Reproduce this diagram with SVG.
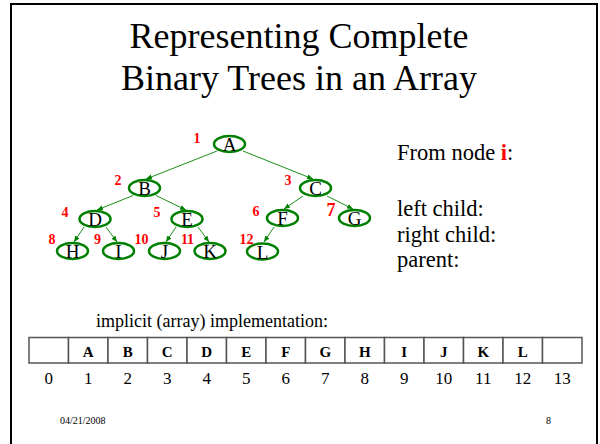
<svg xmlns="http://www.w3.org/2000/svg" width="600" height="444" viewBox="0 0 600 444">
  <style>
    text { font-family: "Liberation Serif", "Times New Roman", serif; fill: #000; }
    .title { font-size: 36px; text-anchor: middle; }
    .node ellipse { fill: #fff; stroke: #008000; stroke-width: 2.5; }
    .node text.key { font-size: 19px; text-anchor: middle; }
    .node text.idx { font-size: 14px; font-weight: bold; fill: #ff0000; text-anchor: middle; }
    .edge { stroke: #008000; stroke-width: 0.9; fill: none; marker-end: url(#arrow); }
    .side { font-size: 22.5px; }
    .cell { fill: #fff; stroke: #555; stroke-width: 1.5; }
    .cellText { font-size: 15px; font-weight: bold; text-anchor: middle; }
    .num { font-size: 17px; text-anchor: middle; }
    .foot { font-size: 10px; }
  </style>
  <defs>
    <marker id="arrow" markerUnits="userSpaceOnUse" markerWidth="7" markerHeight="6" refX="6" refY="2.5" orient="auto">
      <path d="M0,0 L6,2.5 L0,5 z" fill="#008000"/>
    </marker>
  </defs>

  <!-- slide frame -->
  <rect x="11" y="4" width="586" height="460" fill="#fff" stroke="#000" stroke-width="2"/>

  <!-- title -->
  <text class="title" x="299" y="48">Representing Complete</text>
  <text class="title" x="299" y="90">Binary Trees in an Array</text>

  <!-- tree connectors -->
  <g id="edges">
    <line class="edge" x1="217" y1="151" x2="146" y2="179"/>
    <line class="edge" x1="243" y1="151" x2="313" y2="179"/>
    <line class="edge" x1="133" y1="195.5" x2="97" y2="210"/>
    <line class="edge" x1="156" y1="195.5" x2="186" y2="210"/>
    <line class="edge" x1="84" y1="227" x2="74" y2="242"/>
    <line class="edge" x1="106" y1="227" x2="117" y2="242"/>
    <line class="edge" x1="176" y1="227" x2="166" y2="242"/>
    <line class="edge" x1="198" y1="227" x2="209" y2="242"/>
    <line class="edge" x1="303" y1="196" x2="284" y2="209"/>
    <line class="edge" x1="327" y1="196" x2="353" y2="209"/>
    <line class="edge" x1="274" y1="227" x2="264" y2="242"/>
  </g>

  <!-- tree nodes -->
  <g id="node-A" class="node">
    <ellipse cx="229.5" cy="144" rx="15.5" ry="8"/>
    <text class="key" x="229.5" y="151">A</text>
    <text class="idx" x="197" y="143">1</text>
  </g>
  <g id="node-B" class="node">
    <ellipse cx="144.5" cy="188" rx="15.5" ry="8"/>
    <text class="key" x="144.5" y="195">B</text>
    <text class="idx" x="118" y="185">2</text>
  </g>
  <g id="node-C" class="node">
    <ellipse cx="315.5" cy="188" rx="15.5" ry="8"/>
    <text class="key" x="315.5" y="195">C</text>
    <text class="idx" x="288" y="185">3</text>
  </g>
  <g id="node-D" class="node">
    <ellipse cx="95" cy="219" rx="15.5" ry="8"/>
    <text class="key" x="95" y="226">D</text>
    <text class="idx" x="65" y="217">4</text>
  </g>
  <g id="node-E" class="node">
    <ellipse cx="187" cy="219" rx="15.5" ry="8"/>
    <text class="key" x="187" y="226">E</text>
    <text class="idx" x="157" y="217">5</text>
  </g>
  <g id="node-F" class="node">
    <ellipse cx="282.5" cy="218" rx="15.5" ry="8"/>
    <text class="key" x="282.5" y="225">F</text>
    <text class="idx" x="256" y="216">6</text>
  </g>
  <g id="node-G" class="node">
    <ellipse cx="354.5" cy="218" rx="15.5" ry="8"/>
    <text class="key" x="354.5" y="225">G</text>
    <text class="idx" x="331" y="216" style="font-size:18px">7</text>
  </g>
  <g id="node-H" class="node">
    <ellipse cx="72.5" cy="251" rx="15.5" ry="8"/>
    <text class="key" x="72.5" y="258">H</text>
    <text class="idx" x="52" y="244">8</text>
  </g>
  <g id="node-I" class="node">
    <ellipse cx="118.5" cy="251" rx="15.5" ry="8"/>
    <text class="key" x="118.5" y="258">I</text>
    <text class="idx" x="97.5" y="244">9</text>
  </g>
  <g id="node-J" class="node">
    <ellipse cx="164.5" cy="251" rx="15.5" ry="8"/>
    <text class="key" x="164.5" y="258">J</text>
    <text class="idx" x="141.5" y="244">10</text>
  </g>
  <g id="node-K" class="node">
    <ellipse cx="210" cy="251" rx="15.5" ry="8"/>
    <text class="key" x="210" y="258">K</text>
    <text class="idx" x="187.5" y="244">11</text>
  </g>
  <g id="node-L" class="node">
    <ellipse cx="262.5" cy="251.5" rx="15.5" ry="8"/>
    <text class="key" x="262.5" y="258.5">L</text>
    <text class="idx" x="246.5" y="244">12</text>
  </g>

  <!-- index formulas -->
  <g id="formulas">
    <text class="side" x="397" y="160">From node <tspan font-weight="bold" fill="#ff0000">i</tspan>:</text>
    <text class="side" x="397" y="216">left child:</text>
    <text class="side" x="397" y="242">right child:</text>
    <text class="side" x="397" y="267">parent:</text>
  </g>

  <!-- array layout -->
  <g id="array">
    <text x="96" y="327" style="font-size:18px">implicit (array) implementation:</text>
    <rect class="cell" x="29" y="337.5" width="39.5" height="25.5"/>
    <rect class="cell" x="68.5" y="337.5" width="39.5" height="25.5"/>
    <rect class="cell" x="108" y="337.5" width="39.5" height="25.5"/>
    <rect class="cell" x="147.5" y="337.5" width="39.5" height="25.5"/>
    <rect class="cell" x="187" y="337.5" width="39.5" height="25.5"/>
    <rect class="cell" x="226.5" y="337.5" width="39.5" height="25.5"/>
    <rect class="cell" x="266" y="337.5" width="39.5" height="25.5"/>
    <rect class="cell" x="305.5" y="337.5" width="39.5" height="25.5"/>
    <rect class="cell" x="345" y="337.5" width="39.5" height="25.5"/>
    <rect class="cell" x="384.5" y="337.5" width="39.5" height="25.5"/>
    <rect class="cell" x="424" y="337.5" width="39.5" height="25.5"/>
    <rect class="cell" x="463.5" y="337.5" width="39.5" height="25.5"/>
    <rect class="cell" x="503" y="337.5" width="39.5" height="25.5"/>
    <rect class="cell" x="542.5" y="337.5" width="39.5" height="25.5"/>

    <text class="cellText" x="88.25" y="357">A</text>
    <text class="cellText" x="127.75" y="357">B</text>
    <text class="cellText" x="167.25" y="357">C</text>
    <text class="cellText" x="206.75" y="357">D</text>
    <text class="cellText" x="246.25" y="357">E</text>
    <text class="cellText" x="285.75" y="357">F</text>
    <text class="cellText" x="325.25" y="357">G</text>
    <text class="cellText" x="364.75" y="357">H</text>
    <text class="cellText" x="404.25" y="357">I</text>
    <text class="cellText" x="443.75" y="357">J</text>
    <text class="cellText" x="483.25" y="357">K</text>
    <text class="cellText" x="522.75" y="357">L</text>

    <text class="num" x="48.75" y="384">0</text>
    <text class="num" x="88.25" y="384">1</text>
    <text class="num" x="127.75" y="384">2</text>
    <text class="num" x="167.25" y="384">3</text>
    <text class="num" x="206.75" y="384">4</text>
    <text class="num" x="246.25" y="384">5</text>
    <text class="num" x="285.75" y="384">6</text>
    <text class="num" x="325.25" y="384">7</text>
    <text class="num" x="364.75" y="384">8</text>
    <text class="num" x="404.25" y="384">9</text>
    <text class="num" x="443.75" y="384">10</text>
    <text class="num" x="483.25" y="384">11</text>
    <text class="num" x="522.75" y="384">12</text>
    <text class="num" x="562.25" y="384">13</text>
  </g>

  <!-- footer -->
  <text class="foot" x="60" y="424">04/21/2008</text>
  <text class="foot" x="546" y="424">8</text>
</svg>
